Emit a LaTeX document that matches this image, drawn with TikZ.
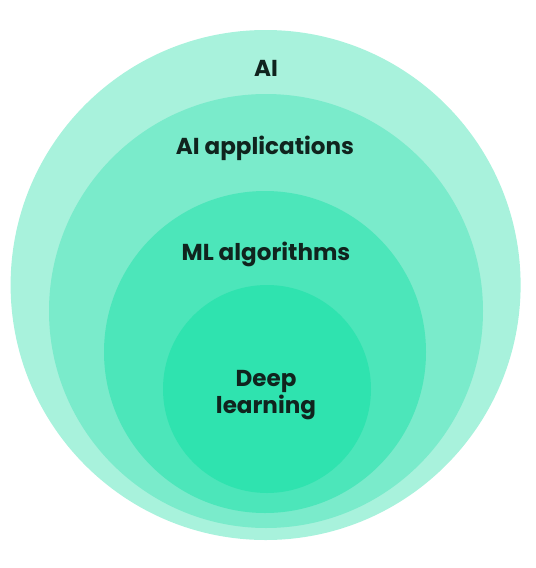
\documentclass[tikz,border=0pt]{standalone}
\usepackage{fontspec}
\setmainfont{Poppins}
\usetikzlibrary{positioning}

\definecolor{ringA}{RGB}{168,242,220}
\definecolor{ringB}{RGB}{122,235,203}
\definecolor{ringC}{RGB}{76,230,186}
\definecolor{ringD}{RGB}{47,227,175}
\definecolor{inktext}{RGB}{16,36,30}

\begin{document}
\begin{tikzpicture}[
    ring/.style={circle, draw=none, inner sep=0pt},
    tag/.style={font=\bfseries\fontsize{16.4}{19}\selectfont, text=inktext, align=center, inner sep=0pt}
]
\useasboundingbox (0,0) rectangle (13.4,-14.2);

% ============ RINGS ============
\node[ring, fill=ringA, minimum size=12.75cm] (ai) at (6.64,-7.125) {};
\node[ring, fill=ringB, minimum size=10.85cm] (apps) at (6.65,-7.775) {};
\node[ring, fill=ringC, minimum size=8.05cm] (ml) at (6.625,-8.8) {};
\node[ring, fill=ringD, minimum size=5.2cm] (dl) at (6.675,-9.725) {};

% ============ LABELS ============
\node[tag] (aitag) at (6.65,-1.72) {AI};
\node[tag] (appstag) at (6.625,-3.72) {AI applications};
\node[tag] (mltag) at (6.65,-6.35) {ML algorithms};
\node[tag] (dltag) at (6.65,-9.88) {Deep\\learning};

\end{tikzpicture}
\end{document}
